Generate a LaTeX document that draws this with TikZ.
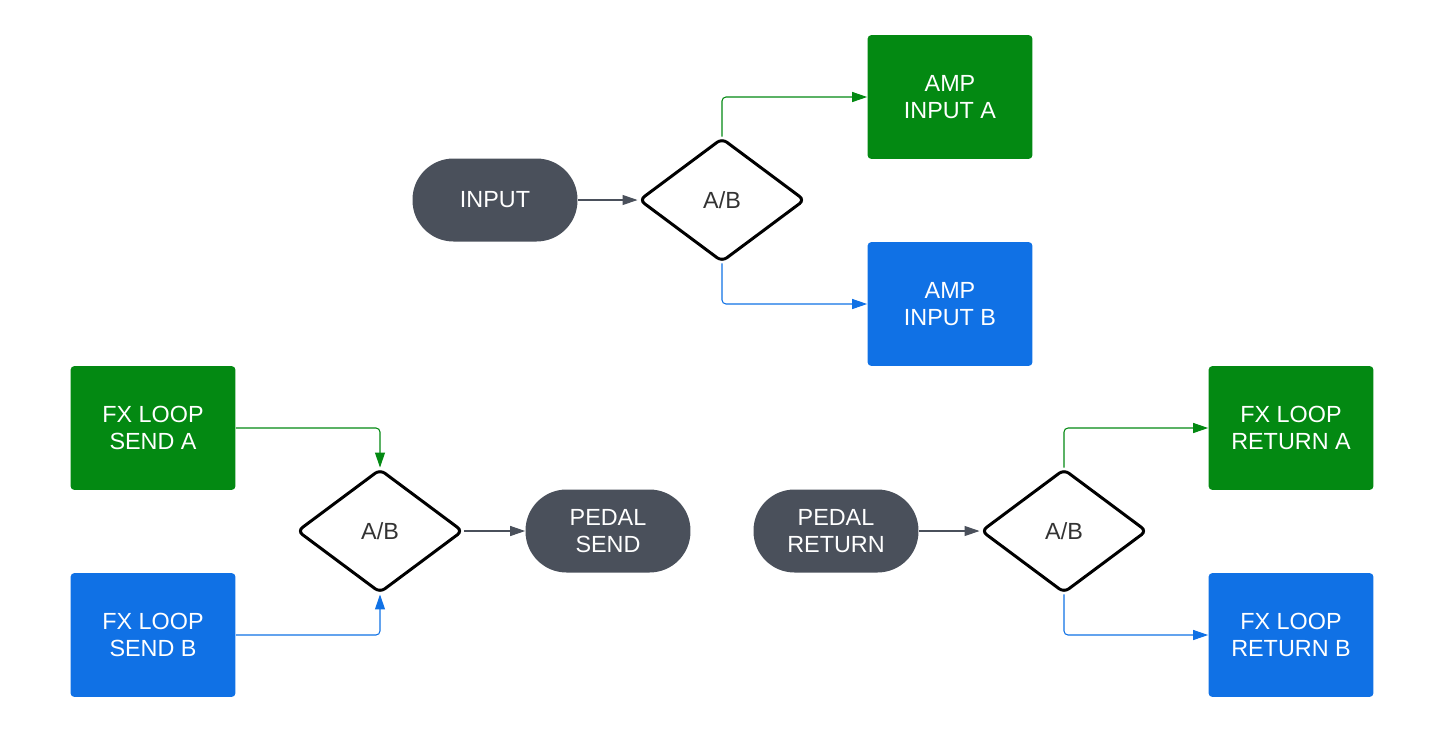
\documentclass[tikz,border=0pt]{standalone}
\usepackage{fontspec}
\setsansfont{Liberation Sans}
\usetikzlibrary{shapes.geometric,arrows.meta}
\definecolor{boxgreen}{RGB}{3,137,18}
\definecolor{boxblue}{RGB}{16,113,229}
\definecolor{pillgray}{RGB}{74,80,91}
\definecolor{textgray}{RGB}{51,51,51}
\begin{document}
\begin{tikzpicture}[x=0.02cm,y=-0.02cm,
  every node/.style={font=\sffamily\fontsize{13.3}{15.2}\selectfont,align=center},
  box node/.style={rectangle,rounded corners=0.08cm,text=white,minimum width=3.3cm,minimum height=2.48cm,inner sep=0pt},
  pill node/.style={rectangle,rounded corners=0.82cm,fill=pillgray,text=white,minimum width=3.3cm,minimum height=1.66cm,inner sep=0pt},
  ab node/.style={diamond,draw=black,line width=1.7pt,rounded corners=0.12cm,fill=white,text=textgray,minimum width=3.32cm,minimum height=2.48cm,inner sep=0pt},
  link/.style={line width=0.6pt,rounded corners=0.08cm,-{Triangle[length=0.3cm,width=0.2cm]}}]

  \useasboundingbox (0,0) rectangle (1445,735);

  % top: input switch
  \node[pill node] (in) at (495,200) {INPUT};
  \node[ab node] (ab1) at (722,200) {A/B};
  \node[box node,fill=boxgreen] (ampA) at (950,97) {AMP\\INPUT A};
  \node[box node,fill=boxblue] (ampB) at (950,304) {AMP\\INPUT B};

  % bottom left: send switch
  \node[box node,fill=boxgreen] (sendA) at (153,428) {FX LOOP\\SEND A};
  \node[box node,fill=boxblue] (sendB) at (153,635) {FX LOOP\\SEND B};
  \node[ab node] (ab2) at (380,531) {A/B};
  \node[pill node] (psend) at (608,531) {PEDAL\\SEND};

  % bottom right: return switch
  \node[pill node] (pret) at (836,531) {PEDAL\\RETURN};
  \node[ab node] (ab3) at (1064,531) {A/B};
  \node[box node,fill=boxgreen] (retA) at (1291,428) {FX LOOP\\RETURN A};
  \node[box node,fill=boxblue] (retB) at (1291,635) {FX LOOP\\RETURN B};

  \draw[link,pillgray] (in) -- (ab1);
  \draw[link,boxgreen] (ab1.north) |- (ampA.west);
  \draw[link,boxblue] (ab1.south) |- (ampB.west);
  \draw[link,boxgreen] (sendA.east) -| (ab2.north);
  \draw[link,boxblue] (sendB.east) -| (ab2.south);
  \draw[link,pillgray] (ab2) -- (psend);
  \draw[link,pillgray] (pret) -- (ab3);
  \draw[link,boxgreen] (ab3.north) |- (retA.west);
  \draw[link,boxblue] (ab3.south) |- (retB.west);
\end{tikzpicture}
\end{document}
